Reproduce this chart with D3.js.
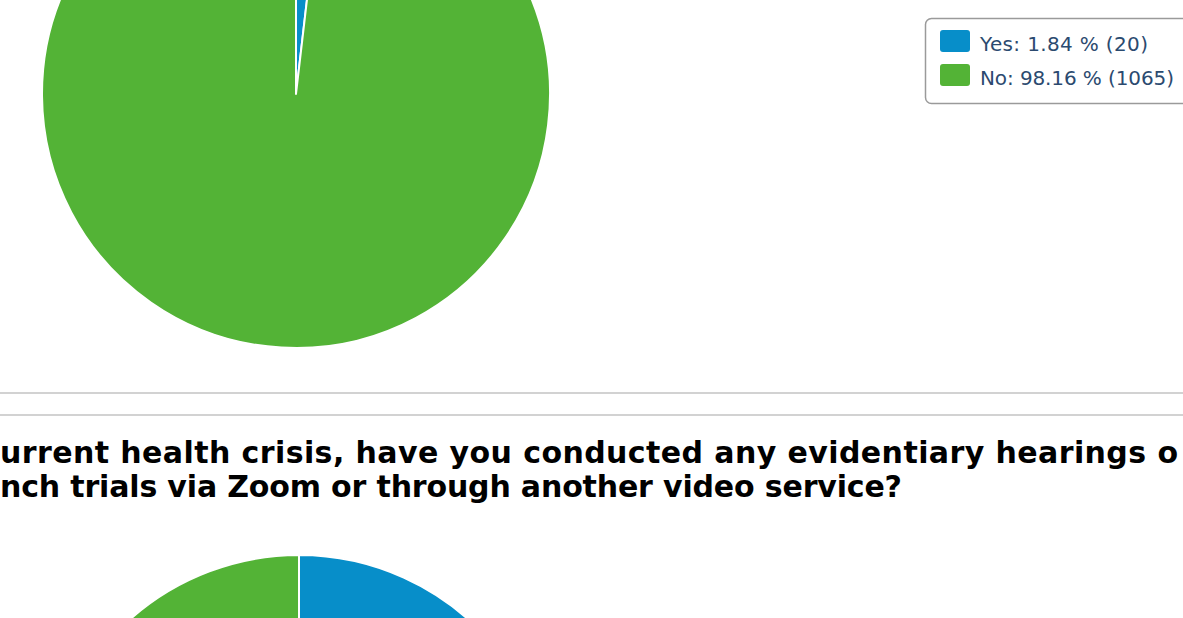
<!DOCTYPE html>
<html>
<head>
<meta charset="utf-8">
<script src="https://cdn.jsdelivr.net/npm/d3@7"></script>
<style>
  html, body { margin: 0; padding: 0; background: #fff; overflow: hidden; }
  svg { display: block; }
</style>
</head>
<body>
<svg id="chart" width="1183" height="618"></svg>
<script>
// ---- data ----
const categories = ["Yes", "No"];
const pie1Counts = [20, 1065];
const pie1Percents = [1.84, 98.16];
const pie2Counts = [310, 775];           // lower chart, mostly off-screen (estimated)
const sliceColors = ["#078ec9", "#53b336"];
const titleLines = [
  "urrent health crisis, have you conducted any evidentiary hearings o",
  "nch trials via Zoom or through another video service?"
];

const svg = d3.select("#chart");
const W = 1183, H = 618;

const pieGen = d3.pie().sort(null).value(d => d);
const color = d3.scaleOrdinal().domain(categories).range(sliceColors);
const R = 254;
const arc = d3.arc().innerRadius(0).outerRadius(R);

// ---- top pie ----
const g1 = svg.append("g").attr("transform", "translate(296,94)");
g1.selectAll("path").data(pieGen(pie1Counts)).join("path")
  .attr("d", arc)
  .attr("fill", (d, i) => color(categories[i]))
  .attr("stroke", "#fff").attr("stroke-width", 2).attr("stroke-linejoin", "round");

// ---- legend ----
const lg = svg.append("g").attr("transform", "translate(925,18)");
lg.append("rect").attr("x", 0.5).attr("y", 0.5).attr("width", 300).attr("height", 85)
  .attr("rx", 6).attr("fill", "#fff").attr("stroke", "#9a9a9a").attr("stroke-width", 1.5);
const legendLabels = categories.map((c, i) =>
  `${c}: ${pie1Percents[i].toFixed(2)} % (${pie1Counts[i]})`);
const legendWidths = [168, 194];
const items = lg.selectAll("g.item").data(categories).join("g")
  .attr("class", "item")
  .attr("transform", (d, i) => `translate(15,${12 + i * 34})`);
items.append("rect").attr("width", 30).attr("height", 22).attr("rx", 3)
  .attr("fill", d => color(d));
items.append("text").attr("x", 40).attr("y", 21)
  .attr("font-family", "DejaVu Sans, sans-serif").attr("font-size", 20)
  .attr("fill", "#2b4a6f")
  .attr("textLength", (d, i) => legendWidths[i]).attr("lengthAdjust", "spacing")
  .text((d, i) => legendLabels[i]);

// ---- separators ----
[393, 415].forEach(y => {
  svg.append("line").attr("x1", 0).attr("x2", W).attr("y1", y).attr("y2", y)
    .attr("stroke", "#d2d2d2").attr("stroke-width", 2);
});

// ---- title ----
const titleWidths = [1178, 902];
const titleY = [463, 497];
svg.selectAll("text.title").data(titleLines).join("text")
  .attr("class", "title")
  .attr("x", 0).attr("y", (d, i) => titleY[i])
  .attr("font-family", "DejaVu Sans, sans-serif").attr("font-weight", "bold")
  .attr("font-size", 30).attr("fill", "#000")
  .attr("textLength", (d, i) => titleWidths[i]).attr("lengthAdjust", "spacing")
  .text(d => d);

// ---- lower pie (mostly cropped) ----
const g2 = svg.append("g").attr("transform", "translate(299,809)");
g2.selectAll("path").data(pieGen(pie2Counts)).join("path")
  .attr("d", arc)
  .attr("fill", (d, i) => color(categories[i]))
  .attr("stroke", "#fff").attr("stroke-width", 2);
</script>
</body>
</html>
